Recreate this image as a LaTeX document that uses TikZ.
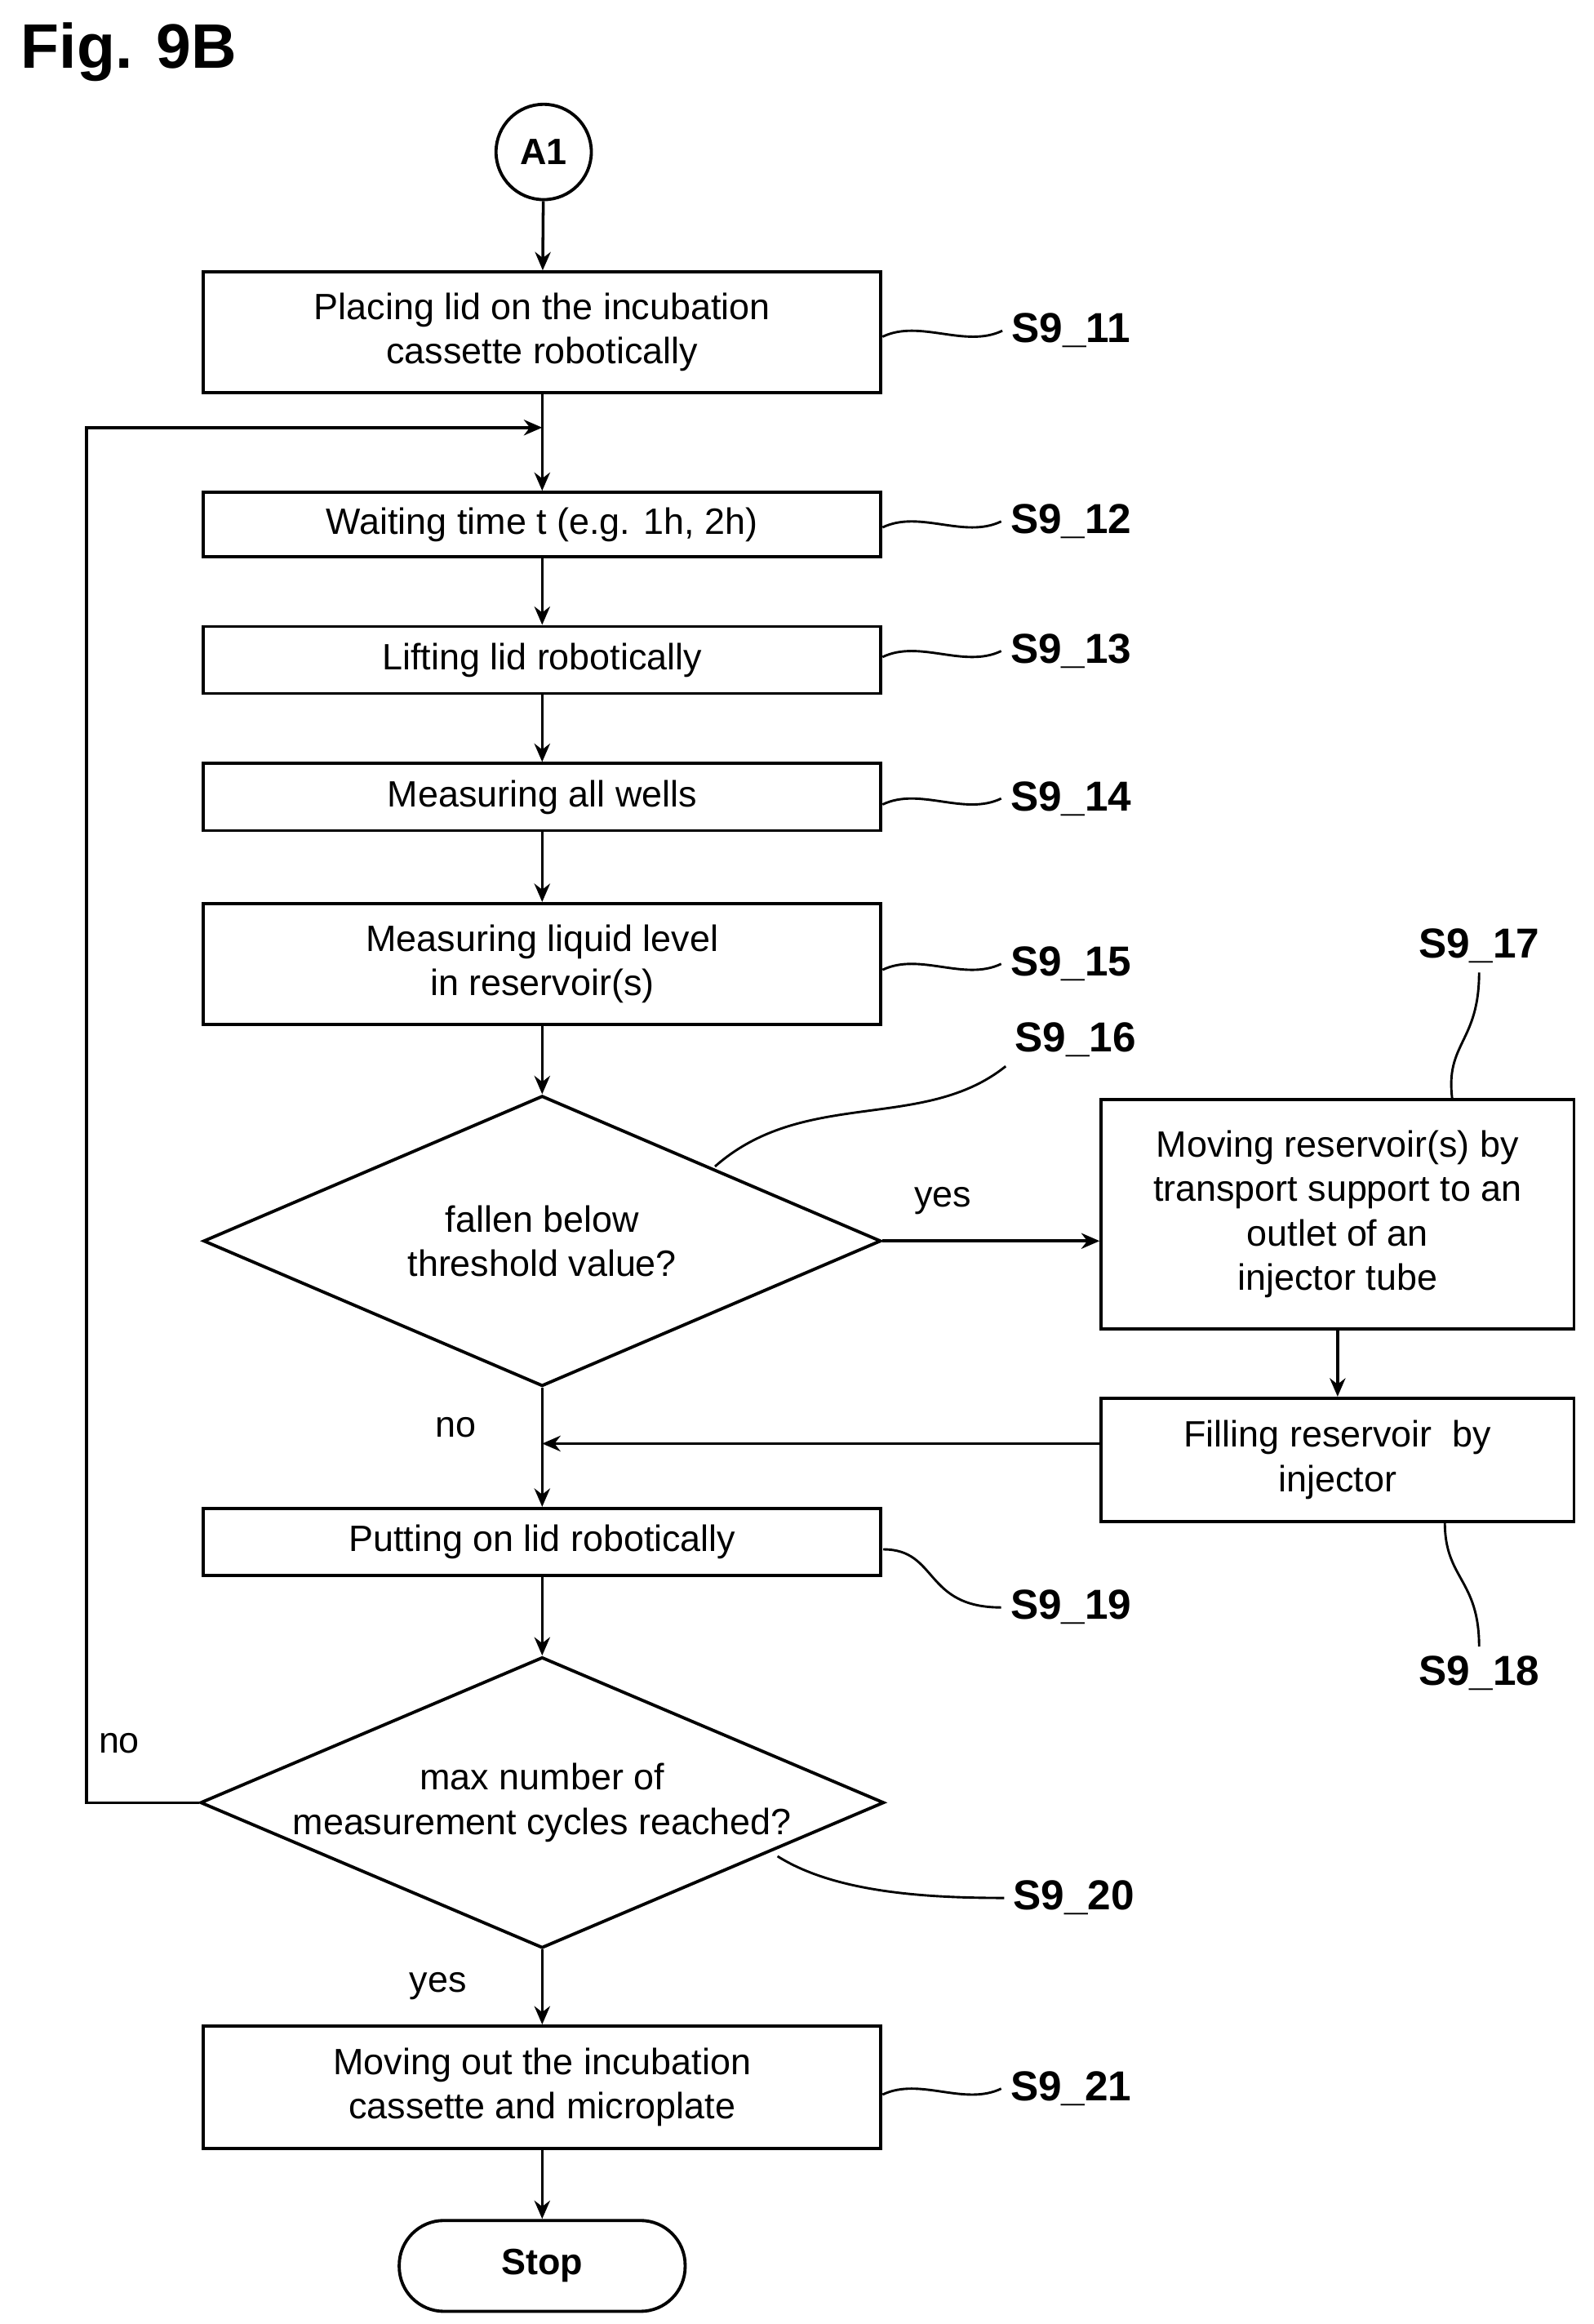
\documentclass[tikz,border=0pt]{standalone}
\usepackage{fontspec}
\setmainfont{Liberation Sans}
\usetikzlibrary{shapes.geometric,arrows.meta}
\begin{document}
\begin{tikzpicture}[x=0.02cm,y=-0.02cm,
  box/.style={draw,line width=1.2pt,inner sep=0pt,align=center,font=\fontsize{14}{17}\selectfont},
  dia/.style={draw,line width=1.2pt,diamond,aspect=2.35,inner sep=0pt,minimum width=9.1cm,minimum height=3.9cm,align=center,font=\fontsize{14}{17}\selectfont},
  lab/.style={font=\bfseries\fontsize{16}{18}\selectfont},
  txt/.style={font=\fontsize{14}{17}\selectfont},
  arr/.style={line width=1.1pt,-{Stealth[length=7pt,width=6pt]}},
  lead/.style={line width=0.9pt}]
\useasboundingbox (0,0) rectangle (1070,1560);
\node[font=\bfseries\fontsize{24}{28}\selectfont,anchor=west] (fig) at (8,35) {Fig. 9B};
\node[draw,circle,line width=1.2pt,minimum size=1.28cm,inner sep=0pt,font=\bfseries\fontsize{14}{17}\selectfont] (a1) at (365,102) {A1};
\node[box,minimum width=9.1cm,minimum height=1.62cm] (b11) at (364,223) {Placing lid on the incubation\\cassette robotically};
\node[box,minimum width=9.1cm,minimum height=0.86cm] (b12) at (364,352) {Waiting time t (e.g. 1h, 2h)};
\node[box,minimum width=9.1cm,minimum height=0.9cm] (b13) at (364,443) {Lifting lid robotically};
\node[box,minimum width=9.1cm,minimum height=0.9cm] (b14) at (364,535) {Measuring all wells};
\node[box,minimum width=9.1cm,minimum height=1.62cm] (b15) at (364,647) {Measuring liquid level\\in reservoir(s)};
\node[dia] (d16) at (364,833) {fallen below\\threshold value?};
\node[box,minimum width=6.35cm,minimum height=3.08cm] (b17) at (898,815) {Moving reservoir(s) by\\transport support to an\\outlet of an\\injector tube};
\node[box,minimum width=6.35cm,minimum height=1.66cm] (b18) at (898,980) {Filling reservoir\ \ by\\injector};
\node[box,minimum width=9.1cm,minimum height=0.9cm] (b19) at (364,1035) {Putting on lid robotically};
\node[dia] (d20) at (364,1210) {max number of\\measurement cycles reached?};
\node[box,minimum width=9.1cm,minimum height=1.64cm] (b21) at (364,1401) {Moving out the incubation\\cassette and microplate};
\node[draw,line width=1.2pt,rounded corners=0.6cm,minimum width=3.84cm,minimum height=1.22cm,font=\bfseries\fontsize{14}{17}\selectfont] (stop) at (364,1521) {Stop};
\coordinate (j1) at (364,287);
\coordinate (j2) at (364,969);
\coordinate (c1) at (58,1210);
\coordinate (c2) at (58,287);
\draw[arr] (a1) -- (b11);
\draw[line width=1.1pt] (b11) -- (j1);
\draw[arr] (j1) -- (b12);
\draw[arr] (b12) -- (b13);
\draw[arr] (b13) -- (b14);
\draw[arr] (b14) -- (b15);
\draw[arr] (b15) -- (d16);
\draw[arr] (d16.east) -- (d16.east -| b17.west);
\draw[arr] (b17) -- (b18);
\draw[line width=1.1pt] (d16.south) -- (j2);
\draw[arr] (j2) -- (b19);
\draw[arr] (j2 -| b18.west) -- (j2);
\draw[arr] (b19) -- (d20);
\draw[arr] (d20) -- (b21);
\draw[arr] (b21) -- (stop);
\draw[arr] (d20.west) -- (c1) -- (c2) -- (j1);
\node[txt] (y1) at (633,806) {yes};
\node[txt] (n1) at (306,958) {no};
\node[txt] (n2) at (80,1170) {no};
\node[txt] (y2) at (294,1333) {yes};
\node[lab] (s11) at (719,222) {S9\_11};
\node[lab] (s12) at (719,350) {S9\_12};
\node[lab] (s13) at (719,437) {S9\_13};
\node[lab] (s14) at (719,536) {S9\_14};
\node[lab] (s15) at (719,647) {S9\_15};
\node[lab] (s16) at (722,698) {S9\_16};
\node[lab] (s17) at (993,635) {S9\_17};
\node[lab] (s18) at (993,1123) {S9\_18};
\node[lab] (s19) at (719,1079) {S9\_19};
\node[lab] (s20) at (721,1274) {S9\_20};
\node[lab] (s21) at (719,1402) {S9\_21};
\foreach \b/\s/\y in {b11/s11/222,b12/s12/350,b13/s13/437,b14/s14/536,b15/s15/647,b21/s21/1402}{
  \draw[lead] (\b.east |- 0,\y+4) .. controls +(25,-12) and +(-25,12) .. (\s.west);
}
\draw[lead] (480,783) .. controls (540,730) and (620,760) .. (s16.south west);
\draw[lead] (975,738) .. controls (970,700) and (993,700) .. (s17.south);
\draw[lead] (970,1022) .. controls (970,1060) and (993,1060) .. (s18.north);
\draw[lead] (593,1040) .. controls (630,1040) and (620,1079) .. (s19.west);
\draw[lead] (522,1246) .. controls (560,1270) and (620,1274) .. (s20.west);
\end{tikzpicture}
\end{document}
